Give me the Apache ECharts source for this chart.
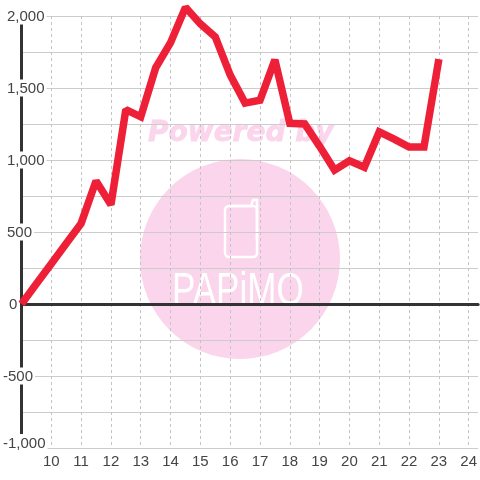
<!DOCTYPE html>
<html><head><meta charset="utf-8">
<style>html,body{margin:0;padding:0;background:#fff}#c{width:480px;height:480px}</style>
<script src="https://cdn.jsdelivr.net/npm/echarts@6/dist/echarts.min.js"></script>
</head><body><div id="c"></div>
<script>
const hours = [9,9.5,10,10.5,11,11.5,12,12.5,13,13.5,14,14.5,15,15.5,16,16.5,17,17.5,18,18.5,19,19.5,20,20.5,21,21.5,22,22.5,23];
const profit = [0,140,280,420,560,855,690,1350,1300,1640,1815,2060,1945,1855,1590,1395,1415,1695,1255,1250,1095,930,995,950,1195,1145,1090,1090,1700];
const xTicks = [10,11,12,13,14,15,16,17,18,19,20,21,22,23,24];
const yLabelled = [-1000,-500,0,500,1000,1500,2000];
const red = '#ee2038', pink = '#fbd5ec', ink = '#444';
const base = {fontFamily:'Liberation Sans',fontSize:15,color:ink,backgroundColor:'#fff',lineHeight:16};
const chart = echarts.init(document.getElementById('c'),null,{renderer:'canvas'});
chart.setOption({
  animation:false,
  backgroundColor:'#fff',
  grid:{left:20.5,right:0,top:16,bottom:32},
  graphic:[
    {type:'circle',z:-5,silent:true,shape:{cx:240,cy:259,r:100},style:{fill:pink}},
    {type:'text',z:-4,silent:true,x:148,y:120,style:{text:'Powered by',fill:pink,stroke:pink,lineWidth:0.8,font:'italic bold 28px "DejaVu Sans"'}},
    {type:'rect',z:-4,silent:true,shape:{x:225,y:206,width:32,height:51,r:4},style:{fill:'none',stroke:'#fff',lineWidth:2.5}},
    {type:'polyline',z:-4,silent:true,shape:{points:[[229,206],[251,206],[253,200],[257,200],[257,240]]},style:{fill:'none',stroke:'#fff',lineWidth:2.5}},
    {type:'text',z:-4,silent:true,x:172,y:269,scaleX:0.745,style:{text:'PAPiMO',fill:'#fff',font:'47px "Liberation Sans"'}}
  ],
  xAxis:[{
    type:'value',min:9,max:24.3167,interval:1,position:'bottom',
    axisLine:{onZero:false,show:false},axisTick:{show:false},
    axisLabel:{color:ink,fontFamily:'Liberation Sans',fontSize:15,margin:6,showMinLabel:false,showMaxLabel:false,
      formatter:v=>xTicks.includes(v)?String(v):''},
    splitLine:{show:true,showMinLine:false,showMaxLine:false,lineStyle:{color:'#c4c4c4',type:[3,3],width:1}}
  },{
    type:'value',min:9,max:24.3167,interval:1,position:'bottom',
    axisLine:{onZero:true,show:true,lineStyle:{color:'#333',width:3}},
    axisTick:{show:false},axisLabel:{show:false},splitLine:{show:false}
  }],
  yAxis:{
    type:'value',min:-1000,max:2000,interval:250,
    axisLine:{show:true,onZero:false,lineStyle:{color:'#333',width:3}},
    axisTick:{show:false},
    splitLine:{show:true,lineStyle:{color:'#ccc',width:1}},
    axisLabel:{
      margin:18.5,align:'left',showMinLabel:true,showMaxLabel:true,
      formatter:v=>{
        if(!yLabelled.includes(v)) return '';
        const s=v.toLocaleString('en-US');
        const k=v===-1000?'b':v<0?'n':v===0?'z':'p';
        return '{'+k+'|'+s+'}';
      },
      rich:{
        p:{...base,padding:[2,2,0,4]},
        z:{...base,padding:[2,0,0,6]},
        n:{...base,padding:[2,2,0,0]},
        b:{...base,padding:[2,2,11,0]}
      }
    }
  },
  series:[{
    type:'line',xAxisIndex:0,yAxisIndex:0,
    data:hours.map((h,i)=>[h,profit[i]]),
    showSymbol:false,symbol:'none',clip:false,smooth:false,z:5,
    lineStyle:{color:red,width:7.5,join:'miter',miterLimit:1.6,cap:'butt'}
  }]
});
</script></body></html>
